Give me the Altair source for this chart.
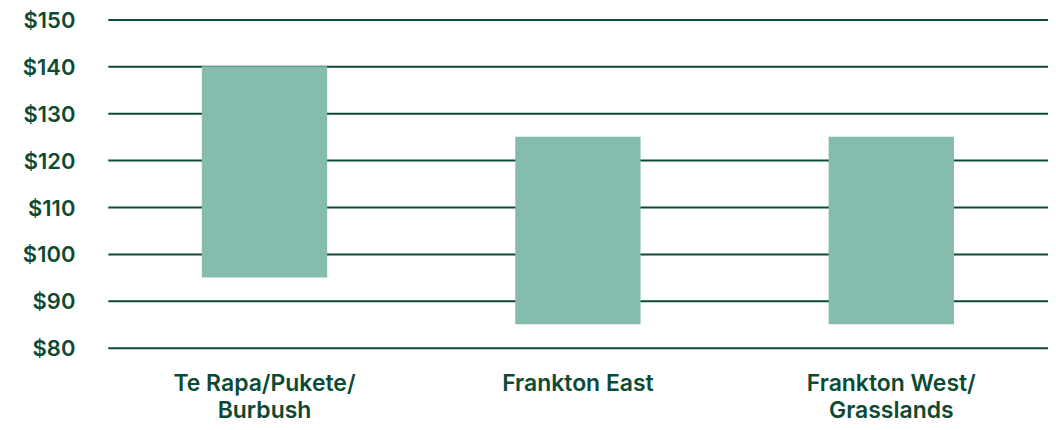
import altair as alt
import pandas as pd

areas = ["Te Rapa/Pukete/Burbush", "Frankton East", "Frankton West/Grasslands"]
low = [95, 85, 85]
high = [140, 125, 125]
label_lines = {
    "Te Rapa/Pukete/Burbush": ["Te Rapa/Pukete/", "Burbush"],
    "Frankton East": ["Frankton East"],
    "Frankton West/Grasslands": ["Frankton West/", "Grasslands"],
}

df = pd.DataFrame({"area": areas, "low": low, "high": high})

expr_parts = []
for k, v in label_lines.items():
    arr = "[" + ",".join("'" + s + "'" for s in v) + "]"
    expr_parts.append(f"datum.label == '{k}' ? {arr} : ")
label_expr = "".join(expr_parts) + "datum.label"

TEXT = "#0d4a33"
FONT = "Inter"

chart = alt.Chart(df).mark_bar(
    color="#85bcae", width=alt.RelativeBandSize(0.4)
).encode(
    x=alt.X("area:N", sort=areas, title=None,
            scale=alt.Scale(paddingInner=0, paddingOuter=0),
            axis=alt.Axis(labelAngle=0, labelExpr=label_expr, labelFontSize=23,
                          labelFont=FONT, labelFontWeight=600, labelColor=TEXT,
                          labelLineHeight=27, labelPadding=25, labelBaseline="top",
                          labelLimit=0,
                          domain=False, ticks=False, grid=False)),
    y=alt.Y("low:Q", title=None,
            scale=alt.Scale(domain=[80, 150], nice=False, zero=False),
            axis=alt.Axis(values=[80, 90, 100, 110, 120, 130, 140, 150],
                          labelExpr="'$' + datum.value", labelFontSize=22,
                          labelFont=FONT, labelFontWeight=600, labelColor=TEXT,
                          labelPadding=33, labelOffset=1, domain=False, ticks=False,
                          grid=True, gridColor=TEXT, gridWidth=2, gridOpacity=1)),
    y2="high:Q",
).properties(
    width=942, height=329,
    autosize=alt.AutoSizeParams(type="none"),
    padding={"left": 100, "top": 11, "right": 0, "bottom": 80},
).configure_view(stroke=None)

chart.save("out.html", embed_options={"renderer": "svg", "actions": False})
